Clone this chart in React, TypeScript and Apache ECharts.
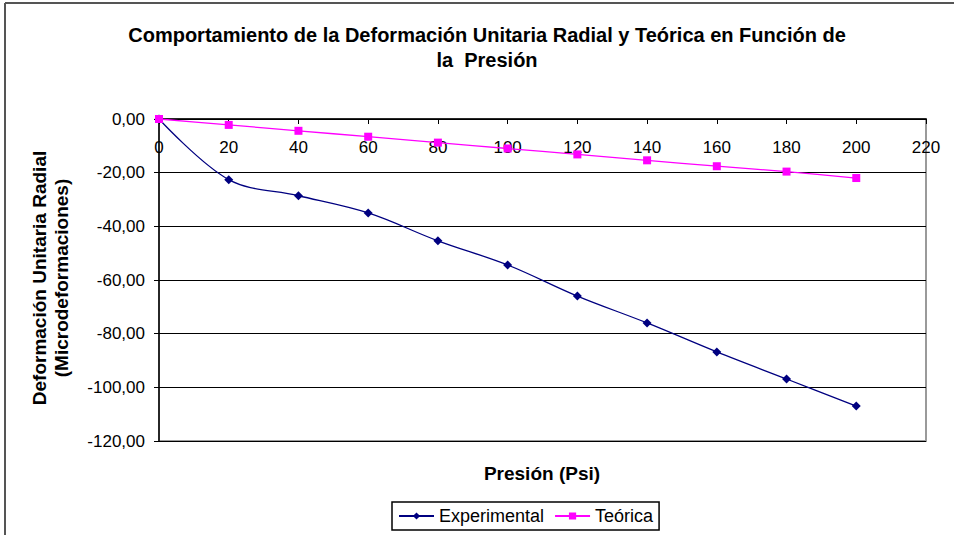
import React, { useEffect, useRef } from "react";
import * as echarts from "echarts";

const presion = [0, 20, 40, 60, 80, 100, 120, 140, 160, 180, 200];
const experimental = [0, -22.6, -28.6, -35, -45.4, -54.4, -66, -76, -86.8, -96.9, -107];
const teorica = [0, -2.2, -4.4, -6.6, -8.8, -11, -13.2, -15.4, -17.6, -19.6, -22];

const titleText = "Comportamiento de la Deformación Unitaria Radial y Teórica en Función de\nla  Presión";
const xName = "Presión (Psi)";
const yName = "Deformación Unitaria Radial\n(Microdeformaciones)";

const FONT = "'Liberation Sans', Arial, sans-serif";

export default function App() {
  const ref = useRef<HTMLDivElement>(null);
  useEffect(() => {
    if (!ref.current) return;
    const chart = echarts.init(ref.current, undefined, { renderer: "svg" });
    chart.setOption({
      animation: false,
      backgroundColor: "#fff",
      textStyle: { fontFamily: FONT },
      title: {
        text: titleText,
        left: 482,
        top: 17,
        textAlign: "center",
        textStyle: { fontFamily: FONT, fontSize: 20, fontWeight: "bold", color: "#000", lineHeight: 25 },
      },
      grid: {
        left: 159,
        top: 119,
        right: 28,
        bottom: 94,
        show: true,
        borderColor: "#9a9a9a",
        borderWidth: 2,
        backgroundColor: "transparent",
      },
      legend: {
        left: 392,
        top: 502,
        itemWidth: 35,
        itemHeight: 9,
        itemGap: 10,
        padding: [5, 6, 5, 6],
        borderColor: "#000",
        borderWidth: 1.5,
        textStyle: { fontFamily: FONT, fontSize: 18, color: "#000" },
        data: ["Experimental", "Teórica"],
      },
      xAxis: {
        type: "value",
        position: "top",
        min: 0,
        max: 220,
        interval: 20,
        axisLine: { show: true, lineStyle: { color: "#000", width: 1.5 } },
        axisTick: { show: true, inside: true, length: 5, lineStyle: { color: "#000" } },
        axisLabel: { inside: true, margin: 20, fontFamily: FONT, fontSize: 17, color: "#000" },
        splitLine: { show: false },
      },
      yAxis: {
        type: "value",
        min: -120,
        max: 0,
        interval: 20,
        axisLine: { show: true, onZero: false, lineStyle: { color: "#000", width: 1.5 } },
        axisTick: { show: true, length: 5, lineStyle: { color: "#000" } },
        axisLabel: {
          margin: 14,
          fontFamily: FONT,
          fontSize: 17,
          color: "#000",
          formatter: (v: number) => v.toFixed(2).replace(".", ","),
        },
        splitLine: { show: true, lineStyle: { color: "#000", width: 1.2 } },
      },
      graphic: [
        { type: "line", shape: { x1: 5, y1: 3, x2: 5, y2: 535 }, style: { stroke: "#555", lineWidth: 2 } },
        { type: "line", shape: { x1: 5, y1: 3, x2: 954, y2: 3 }, style: { stroke: "#555", lineWidth: 2 } },
        {
          type: "text",
          x: 50,
          y: 278,
          rotation: Math.PI / 2,
          style: {
            text: yName,
            fontFamily: FONT,
            fontSize: 19,
            fontWeight: "bold",
            fill: "#000",
            align: "center",
            verticalAlign: "middle",
            lineHeight: 22,
          },
        },
        {
          type: "text",
          x: 542,
          y: 473,
          style: {
            text: xName,
            fontFamily: FONT,
            fontSize: 19,
            fontWeight: "bold",
            fill: "#000",
            align: "center",
            verticalAlign: "middle",
          },
        },
      ],
      series: [
        {
          name: "Experimental",
          type: "line",
          data: presion.map((p, i) => [p, experimental[i]]),
          smooth: 0.35,
          symbol: "diamond",
          symbolSize: 9,
          itemStyle: { color: "#000080" },
          lineStyle: { color: "#000080", width: 1.3 },
          z: 3,
        },
        {
          name: "Teórica",
          type: "line",
          data: presion.map((p, i) => [p, teorica[i]]),
          smooth: 0.2,
          symbol: "rect",
          symbolSize: 8,
          itemStyle: { color: "#ff00ff" },
          lineStyle: { color: "#ff00ff", width: 1.3 },
          z: 4,
        },
      ],
    });
    return () => chart.dispose();
  }, []);
  return (
    <div
      ref={ref}
      style={{ position: "fixed", left: 0, top: 0, width: 954, height: 535, background: "#fff" }}
    />
  );
}
